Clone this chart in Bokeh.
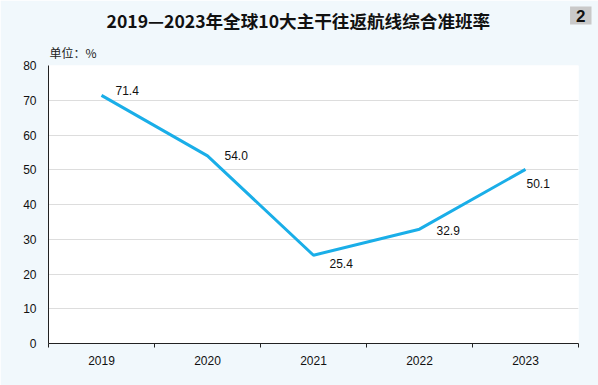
from bokeh.plotting import figure
from bokeh.models import ColumnDataSource, LabelSet, Title, FixedTicker, Range1d
from bokeh.core.properties import value
from bokeh.embed import file_html
from bokeh.resources import INLINE

years = ["2019", "2020", "2021", "2022", "2023"]
rates = [71.4, 54.0, 25.4, 32.9, 50.1]
y_ticks = [0, 10, 20, 30, 40, 50, 60, 70, 80]

# label placement (pixels) for value labels
lab_dx = [14, 17, 16, 17, 1]
lab_dy = [5, 0, -8, -1, -14]

xs = [i + 0.5 for i in range(len(years))]
src = ColumnDataSource(dict(x=xs, y=rates, t=[f"{v:.1f}" for v in rates], dx=lab_dx, dy=lab_dy))

BG = "#f1f8fc"
FONT = "Liberation Sans"
CJK = "Noto Sans CJK SC"

p = figure(width=598, height=385, output_backend="svg", toolbar_location=None,
           x_range=Range1d(0, len(years)), y_range=Range1d(0, 80),
           min_border_left=48, min_border_right=20, min_border_top=64, min_border_bottom=42)
p.background_fill_color = "white"
p.border_fill_color = BG
p.outline_line_color = None

p.line("x", "y", source=src, line_color="#1aaee8", line_width=3)

p.add_layout(LabelSet(x="x", y="y", text="t", source=src, x_offset="dx", y_offset="dy",
                      text_font=value(FONT), text_font_size="12px", text_color="#111111",
                      text_align="left", text_baseline="middle"))

# axes
p.xaxis.ticker = FixedTicker(ticks=xs, minor_ticks=list(range(len(years) + 1)))
p.xaxis.major_label_overrides = {x: y for x, y in zip(xs, years)}
p.xaxis.major_tick_out = 0
p.xaxis.major_tick_in = 0
p.xaxis.minor_tick_out = 4
p.xaxis.minor_tick_in = 0
p.xaxis.minor_tick_line_color = "#222222"
p.xaxis.axis_line_color = "#222222"
p.xaxis.major_label_standoff = 8
p.xaxis.major_label_text_font = FONT
p.xaxis.major_label_text_font_size = "12px"
p.xaxis.major_label_text_color = "#111111"

p.yaxis.ticker = FixedTicker(ticks=y_ticks)
p.yaxis.major_tick_out = 0
p.yaxis.major_tick_in = 0
p.yaxis.minor_tick_line_color = None
p.yaxis.axis_line_color = "#222222"
p.yaxis.major_label_standoff = 12
p.yaxis.major_label_text_font = FONT
p.yaxis.major_label_text_font_size = "12px"
p.yaxis.major_label_text_color = "#111111"

p.xgrid.grid_line_color = None
p.ygrid.grid_line_color = "#dddddd"
p.ygrid.grid_line_width = 1

# unit (nearest the frame), main title, number box (outermost, pulled down onto the title row)
p.add_layout(Title(text="单位：%", align="left", standoff=9, offset=1,
                   text_font=CJK, text_font_size="12px", text_font_style="normal",
                   text_color="#222222"), "above")
p.add_layout(Title(text="2019—2023年全球10大主干往返航线综合准班率", align="left", offset=58,
                   standoff=10, text_font=CJK, text_font_style="bold",
                   text_font_size="17.6px", text_color="#111111"), "above")
p.add_layout(Title(text="2", align="right", offset=-13, standoff=-48,
                   text_font=FONT, text_font_style="bold", text_font_size="17px",
                   text_color="#111111", background_fill_color="#c9c9c9",
                   background_fill_alpha=1.0,
                   padding=dict(left=6, right=6, top=3, bottom=3)), "above")

open("out.html", "w").write(file_html(p, INLINE))
